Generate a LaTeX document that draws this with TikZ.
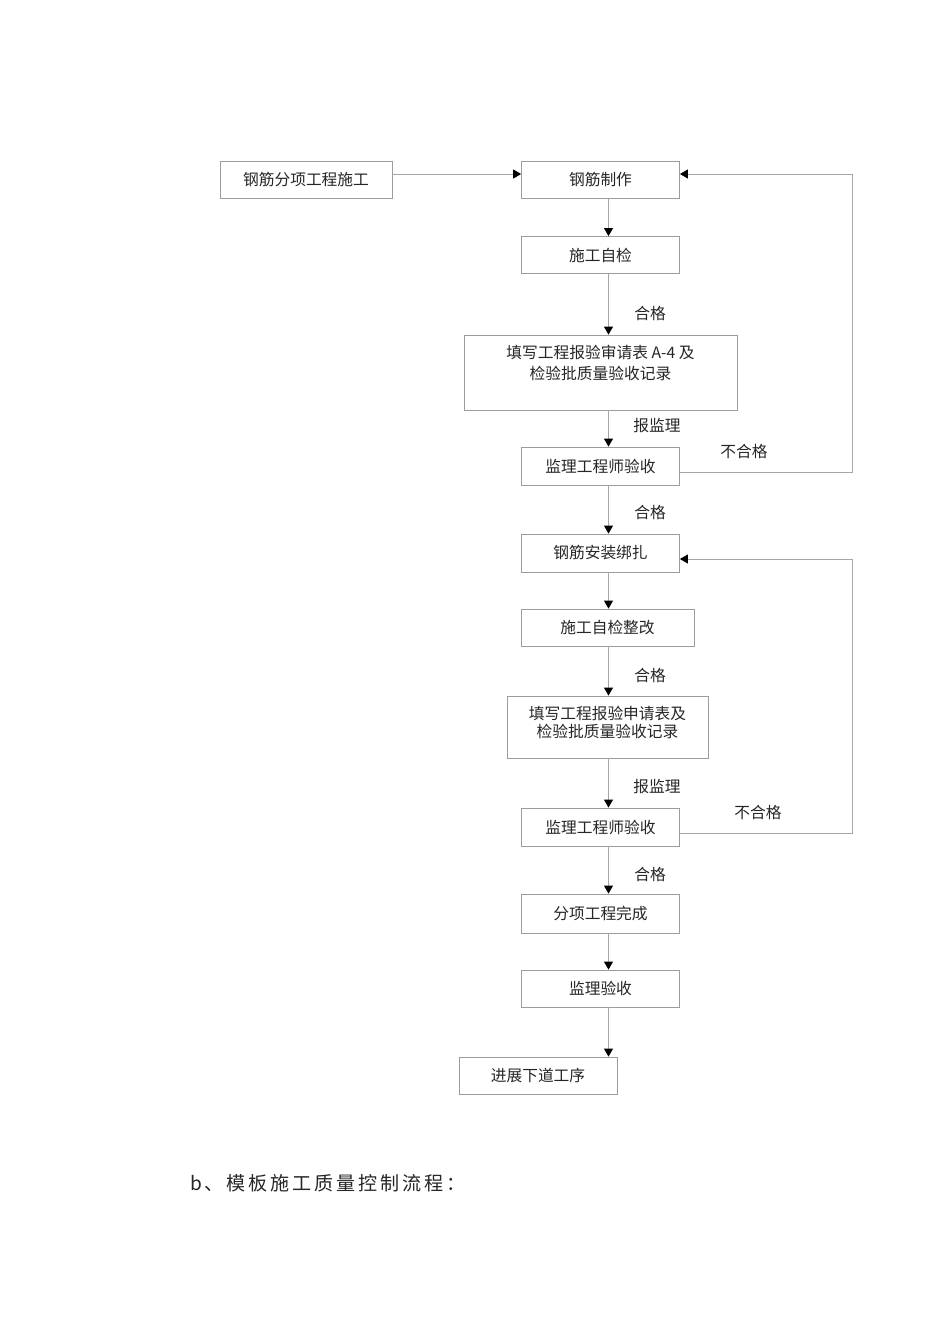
\documentclass[tikz,border=0pt]{standalone}
\usepackage{fontspec}
\newfontfamily\cjk{Noto Sans CJK SC}
\newfontfamily\cjkwide[LetterSpace=15]{Noto Sans CJK SC}
\usetikzlibrary{arrows.meta}

\definecolor{linegray}{HTML}{A6A6A6}
\definecolor{boxgray}{HTML}{9C9C9C}
\definecolor{inkgray}{HTML}{262626}

\tikzset{
  box/.style={draw=boxgray, line width=0.6pt, inner sep=0pt, align=center, text=inkgray,
    font=\cjk\fontsize{11.8}{15.75}\selectfont, minimum width=118.5pt, minimum height=27.75pt},
  lbl/.style={text=inkgray, font=\cjk\fontsize{11.8}{14}\selectfont},
  arr/.style={draw=linegray, line width=0.6pt,
    -{Triangle[length=6pt,width=6.75pt,color=black]}},
}

\begin{document}
\begin{tikzpicture}[x=0.75pt,y=-0.75pt]
\fill[white] (0,0) rectangle (950,1344);
\useasboundingbox (0,0) rectangle (950,1344);

% first part: making the bars
\node[box, minimum width=129pt] (start) at (306,180) {钢筋分项工程施工};
\node[box] (make) at (600.5,180) {钢筋制作};
\node[box] (check1) at (600.5,255) {施工自检};
\node[box, minimum width=204.75pt, minimum height=56.25pt] (form1) at (600.5,372.5)
  {填写工程报验审请表 A-4 及\\检验批质量验收记录\\~};
\node[box, minimum height=28.5pt] (super1) at (600.5,466) {监理工程师验收};

% second part: fixing the bars
\node[box, minimum height=28.5pt] (fix) at (600.5,553) {钢筋安装绑扎};
\node[box, minimum width=129.75pt] (check2) at (607.5,627.5) {施工自检整改};
\node[box, minimum width=150.75pt, minimum height=46.5pt, font=\cjk\fontsize{11.8}{13.5}\selectfont]
  (form2) at (607.5,727) {填写工程报验申请表及\\检验批质量验收记录\\[-6pt]~};
\node[box, minimum height=28.5pt] (super2) at (600.5,827) {监理工程师验收};

% end
\node[box, minimum height=29.25pt] (done) at (600.5,913.5) {分项工程完成};
\node[box] (accept) at (600.5,988.5) {监理验收};
\node[box] (next) at (538,1075.5) {进展下道工序};

\coordinate (spine) at (608.5,0);
\coordinate (loop1) at (852.5,174);
\coordinate (loop2) at (852.5,559);

\draw[arr] ([yshift=4.5pt]start.east) -- ([yshift=4.5pt]make.west);
\draw[arr] (make.south -| spine) -- (check1.north -| spine);
\draw[arr] (check1.south -| spine) -- (form1.north -| spine);
\draw[arr] (form1.south -| spine) -- (super1.north -| spine);
\draw[arr] (super1.south -| spine) -- (fix.north -| spine);
\draw[arr] (fix.south -| spine) -- (check2.north -| spine);
\draw[arr] (check2.south -| spine) -- (form2.north -| spine);
\draw[arr] (form2.south -| spine) -- (super2.north -| spine);
\draw[arr] (super2.south -| spine) -- (done.north -| spine);
\draw[arr] (done.south -| spine) -- (accept.north -| spine);
\draw[arr] (accept.south -| spine) -- (next.north -| spine);

% back loops
\draw[arr] ([yshift=-4.5pt]super1.east) -| (loop1) -- (make.east |- loop1);
\draw[arr] ([yshift=-4.5pt]super2.east) -| (loop2) -- (fix.east |- loop2);

\node[lbl] (ok1) at (650,314) {合格};
\node[lbl] (rep1) at (657,426) {报监理};
\node[lbl] (bad1) at (744,452) {不合格};
\node[lbl] (ok2) at (650,513) {合格};
\node[lbl] (ok3) at (650,675) {合格};
\node[lbl] (rep2) at (657,787) {报监理};
\node[lbl] (bad2) at (758,812) {不合格};
\node[lbl] (ok4) at (650,874) {合格};

\node[anchor=west, inner sep=0pt, text=inkgray, font=\cjkwide\fontsize{14.3}{17}\selectfont]
  (title) at (190,1183) {b、模板施工质量控制流程：};
\end{tikzpicture}
\end{document}
